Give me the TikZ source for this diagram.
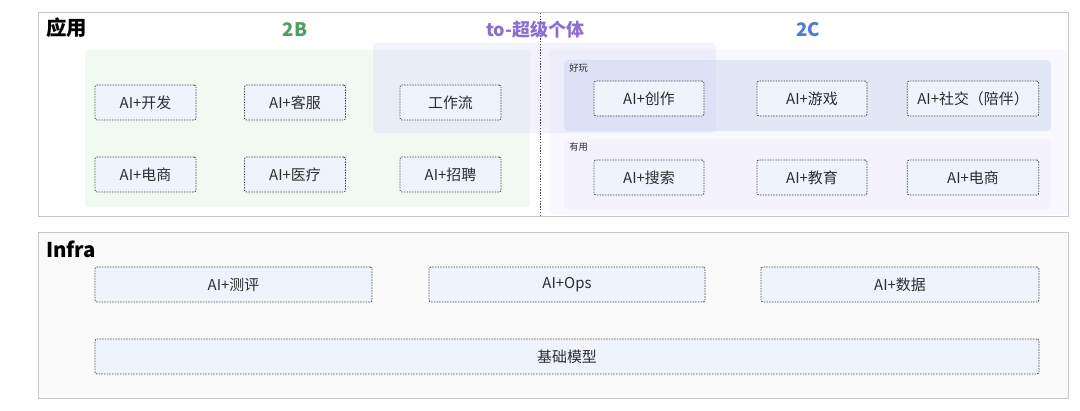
\documentclass[tikz,border=0pt]{standalone}
\usepackage{fontspec}
\setmainfont{Noto Sans CJK SC}
\usepackage{xcolor}

\definecolor{frameline}{RGB}{200,200,200}
\definecolor{infrabg}{RGB}{250,250,250}
\definecolor{greenbg}{RGB}{241,250,242}
\definecolor{superbg}{RGB}{215,210,250}
\definecolor{consumerbg}{RGB}{248,248,254}
\definecolor{funbg}{RGB}{225,231,245}
\definecolor{usefulbg}{RGB}{243,242,253}
\definecolor{itembg}{RGB}{238,243,252}
\definecolor{itemline}{RGB}{70,70,70}
\definecolor{itemtext}{RGB}{45,45,45}
\definecolor{bizgreen}{RGB}{76,160,95}
\definecolor{superpurple}{RGB}{140,110,210}
\definecolor{consumerblue}{RGB}{80,125,205}

\tikzset{
  item/.style={draw=itemline, fill=itembg, text=itemtext, line width=0.6pt, dash pattern=on 1.1pt off 0.9pt,
    rounded corners=1.5pt, inner sep=0pt, minimum height=26.25pt, font=\fontsize{11.2}{13}\selectfont},
  title/.style={inner sep=0pt, font=\fontsize{15.3}{18}\selectfont\bfseries},
  group/.style={inner sep=0pt, font=\fontsize{14}{17}\selectfont\bfseries},
  tag/.style={anchor=north west, inner sep=0pt, text=itemtext, font=\fontsize{7}{8}\selectfont},
}

\begin{document}
\begin{tikzpicture}[x=0.75pt,y=0.75pt,yscale=-1,xscale=1]
\useasboundingbox (0,0) rectangle (1080,410);

%Shape: Rectangle (应用)
\draw [draw=frameline, fill=white, line width=0.75pt] (38,13) rectangle (1068,216);
%Shape: Rectangle (Infra)
\draw [draw=frameline, fill=infrabg, line width=0.75pt] (38,232) rectangle (1068,398);

%Shape: Rectangle 2B
\fill [greenbg, rounded corners=2pt] (85,50) rectangle (530,207);
%Shape: Rectangle 2C
\fill [consumerbg, rounded corners=2pt] (549,50) rectangle (1067,214);
\fill [funbg, rounded corners=3pt] (564,60) rectangle (1051,131);
\fill [usefulbg, rounded corners=3pt] (564,139) rectangle (1051,209);
%Shape: Rectangle to-超级个体
\fill [superbg, fill opacity=0.28, rounded corners=3pt] (373,43) rectangle (716,133);

%Straight Lines
\draw [itemline, line width=0.6pt, dash pattern=on 1.1pt off 1pt] (540,13) -- (540,216);

% Text Node
\node [title, anchor=west] (app) at (46,28) {应用};
\node [title, anchor=west] (infra) at (46,249) {Infra};
\node [group, text=bizgreen] (tob) at (295,30) {2B};
\node [group, text=superpurple, font=\fontsize{13.5}{16}\selectfont\bfseries] (tosuper) at (535,30) {to-超级个体};
\node [group, text=consumerblue] (toc) at (808,30) {2C};
\node [tag] (fun) at (569,63) {好玩};
\node [tag] (useful) at (569,142) {有用};

% 2B
\node [item, minimum width=75.75pt] (dev) at (145.5,102.5) {AI+开发};
\node [item, minimum width=75.75pt] (service) at (295,102.5) {AI+客服};
\node [item, minimum width=75.75pt] (workflow) at (450.5,102.5) {工作流};
\node [item, minimum width=75.75pt] (shopb) at (145.5,174.5) {AI+电商};
\node [item, minimum width=75.75pt] (medical) at (295,174.5) {AI+医疗};
\node [item, minimum width=75.75pt] (hiring) at (450.5,174.5) {AI+招聘};

% 2C
\node [item, minimum width=82.5pt] (create) at (649,98.5) {AI+创作};
\node [item, minimum width=82.5pt] (game) at (812,98.5) {AI+游戏};
\node [item, minimum width=98.6pt] (social) at (973,98.5) {AI+社交（陪伴）};
\node [item, minimum width=82.5pt] (search) at (649,177.5) {AI+搜索};
\node [item, minimum width=82.5pt] (edu) at (812,177.5) {AI+教育};
\node [item, minimum width=98.6pt] (shopc) at (973,177.5) {AI+电商};

% Infra
\node [item, minimum width=207.75pt] (eval) at (233.5,284.5) {AI+测评};
\node [item, minimum width=207pt] (ops) at (567,284.5) {AI+Ops};
\node [item, minimum width=208.5pt] (data) at (900,284.5) {AI+数据};
\node [item, minimum width=708pt] (model) at (567,356.5) {基础模型};

\end{tikzpicture}
\end{document}
